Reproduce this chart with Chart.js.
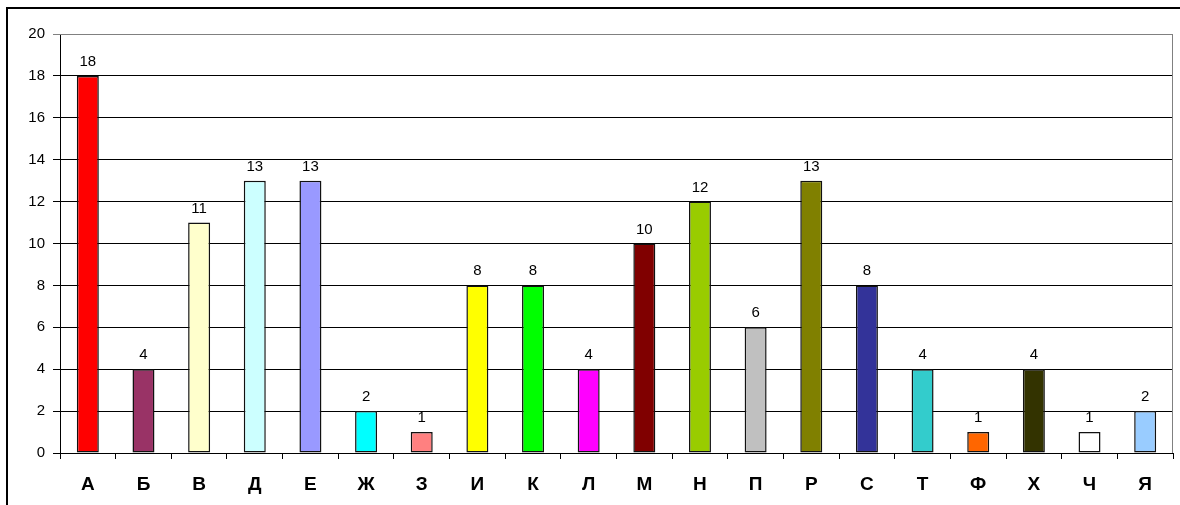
<!DOCTYPE html>
<html>
<head>
<meta charset="utf-8">
<script src="https://cdn.jsdelivr.net/npm/chart.js@4/dist/chart.umd.min.js"></script>
<style>
  body { margin: 0; background: #fff; }
  canvas { display: block; }
</style>
</head>
<body>
<canvas id="myChart" width="1180" height="505"></canvas>
<script>
var letters = ["А", "Б", "В", "Д", "Е", "Ж", "З", "И", "К", "Л", "М", "Н", "П", "Р", "С", "Т", "Ф", "Х", "Ч", "Я"];
var counts = [18, 4, 11, 13, 13, 2, 1, 8, 8, 4, 10, 12, 6, 13, 8, 4, 1, 4, 1, 2];
var barColors = ["#FF0000", "#993366", "#FFFFCC", "#CCFFFF", "#9999FF", "#00FFFF", "#FF8080", "#FFFF00", "#00FF00", "#FF00FF",
                 "#800000", "#99CC00", "#C0C0C0", "#808000", "#333399", "#33CCCC", "#FF6600", "#333300", "#FFFFFF", "#99CCFF"];
var yMax = 20;
var yStep = 2;

// frame, plot border and the numbers over the bars
var extras = {
    id: 'extras',
    beforeDraw: function(chart) {
        var c = chart.ctx;
        c.save();
        c.fillStyle = '#fff';
        c.fillRect(0, 0, chart.width, chart.height);
        c.strokeStyle = '#000';
        c.lineWidth = 2;
        c.beginPath();
        c.moveTo(7, chart.height);
        c.lineTo(7, 8);
        c.lineTo(chart.width, 8);
        c.stroke();
        c.restore();
    },
    afterDraw: function(chart) {
        var c = chart.ctx, a = chart.chartArea;
        c.save();
        c.strokeStyle = '#808080';
        c.lineWidth = 1;
        c.beginPath();
        c.moveTo(a.left, a.top + 0.5);
        c.lineTo(a.right - 0.5, a.top + 0.5);
        c.lineTo(a.right - 0.5, a.bottom);
        c.stroke();
        c.fillStyle = '#000';
        c.font = '15px "Liberation Sans", Arial, sans-serif';
        c.textAlign = 'center';
        c.textBaseline = 'alphabetic';
        chart.getDatasetMeta(0).data.forEach(function(bar, i) {
            c.fillText(String(counts[i]), bar.x, bar.y - 10);
        });
        c.restore();
    }
};

var ctx = document.getElementById("myChart").getContext("2d");
var myChart = new Chart(ctx, {
    type: 'bar',
    data: {
        labels: letters,
        datasets: [{
            data: counts,
            backgroundColor: barColors,
            borderColor: '#111',
            borderWidth: 1.5,
            borderSkipped: false,
            barPercentage: 0.395,
            categoryPercentage: 1
        }]
    },
    options: {
        responsive: false,
        animation: false,
        layout: { padding: { top: 34, right: 7, left: 0, bottom: 0 } },
        plugins: { legend: { display: false }, tooltip: { enabled: false } },
        scales: {
            x: {
                grid: { offset: true, drawOnChartArea: false, tickLength: 6, color: '#000' },
                border: { color: '#000' },
                ticks: {
                    color: '#000',
                    padding: 14,
                    maxRotation: 0,
                    font: { family: '"Liberation Sans", Arial, sans-serif', size: 19, weight: 'bold' }
                },
                afterFit: function(scale) { scale.height = 52; }
            },
            y: {
                min: 0,
                max: yMax,
                ticks: {
                    stepSize: yStep,
                    color: '#000',
                    padding: 8,
                    font: { family: '"Liberation Sans", Arial, sans-serif', size: 15 }
                },
                grid: {
                    tickLength: 7,
                    color: function(context) {
                        return context.tick && context.tick.value === yMax ? '#808080' : '#000';
                    }
                },
                border: { color: '#000' },
                afterFit: function(scale) { scale.width = 60; }
            }
        }
    },
    plugins: [extras]
});
</script>
</body>
</html>
